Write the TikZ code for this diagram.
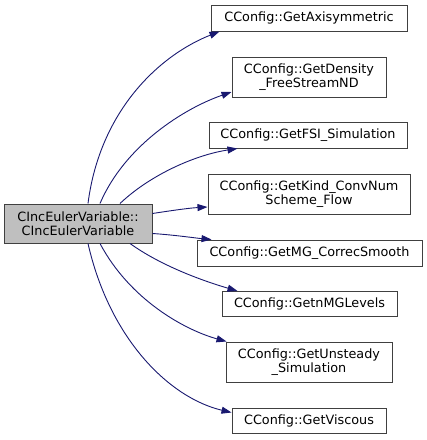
\documentclass[tikz,border=0pt]{standalone}
\usepackage{fontspec}
\setmainfont{DejaVu Sans}
\usetikzlibrary{arrows.meta,calc}
\definecolor{edgecol}{HTML}{191970}
\begin{document}
\begin{tikzpicture}[x=1pt,y=1pt,
  box/.style={draw=black!75,line width=1pt,fill=white,inner sep=0pt,align=center,font=\fontsize{12.8}{14.5}\selectfont},
  edge/.style={draw=edgecol,line width=0.9pt,-{Triangle[length=10pt,width=7pt]}}]
\useasboundingbox (0,0) rectangle (427,-440);
\node[box,fill=black!25,minimum width=148pt,minimum height=39pt] (main) at (78,-223.5) {CIncEulerVariable::\\CIncEulerVariable};
\node[box,minimum width=196pt,minimum height=26pt] (n1) at (309,-18) {CConfig::GetAxisymmetric};
\node[box,minimum width=154pt,minimum height=40pt] (n2) at (309,-77) {CConfig::GetDensity\\\_FreeStreamND};
\node[box,minimum width=198pt,minimum height=26pt] (n3) at (308,-135) {CConfig::GetFSI\_Simulation};
\node[box,minimum width=202pt,minimum height=40pt] (n4) at (309,-194) {CConfig::GetKind\_ConvNum\\Scheme\_Flow};
\node[box,minimum width=225pt,minimum height=26pt] (n5) at (309.5,-253) {CConfig::GetMG\_CorrecSmooth};
\node[box,minimum width=175pt,minimum height=25pt] (n6) at (309.5,-304) {CConfig::GetnMGLevels};
\node[box,minimum width=166pt,minimum height=40pt] (n7) at (309,-362) {CConfig::GetUnsteady\\\_Simulation};
\node[box,minimum width=154pt,minimum height=25pt] (n8) at (309,-420.5) {CConfig::GetViscous};

\coordinate (s1) at ($(main.north)+(10,0)$);
\coordinate (s2) at ($(main.north)+(22,0)$);
\coordinate (s3) at ($(main.north)+(42,0)$);
\coordinate (s4) at ($(main.east)+(0,10)$);
\coordinate (s5) at ($(main.east)+(0,-10)$);
\coordinate (s6) at ($(main.south)+(52,0)$);
\coordinate (s7) at ($(main.south)+(22,0)$);
\coordinate (s8) at ($(main.south)+(10,0)$);
\coordinate (t1) at ($(n1.south west)+(9,0)$);
\coordinate (t2) at ($(n2.west)+(0,-15)$);
\coordinate (t3) at ($(n3.south west)+(29,0)$);
\coordinate (t4) at ($(n4.west)+(0,-13)$);
\coordinate (t5) at ($(n5.north west)+(15,0)$);
\coordinate (t6) at ($(n6.north west)+(16,0)$);
\coordinate (t7) at ($(n7.north west)+(1,0)$);
\coordinate (t8) at ($(n8.west)+(0,8)$);

\draw[edge] (s1) .. controls (100,-110) and (160,-55) .. (t1);
\draw[edge] (s2) .. controls (125,-145) and (185,-108) .. (t2);
\draw[edge] (s3) .. controls (150,-175) and (195,-155) .. (t3);
\draw[edge] (s4) .. controls (175,-210) and (190,-208) .. (t4);
\draw[edge] (s5) .. controls (175,-235) and (195,-238) .. (t5);
\draw[edge] (s6) .. controls (160,-265) and (200,-280) .. (t6);
\draw[edge] (s7) .. controls (130,-300) and (185,-330) .. (t7);
\draw[edge] (s8) .. controls (110,-340) and (170,-398) .. (t8);
\end{tikzpicture}
\end{document}
